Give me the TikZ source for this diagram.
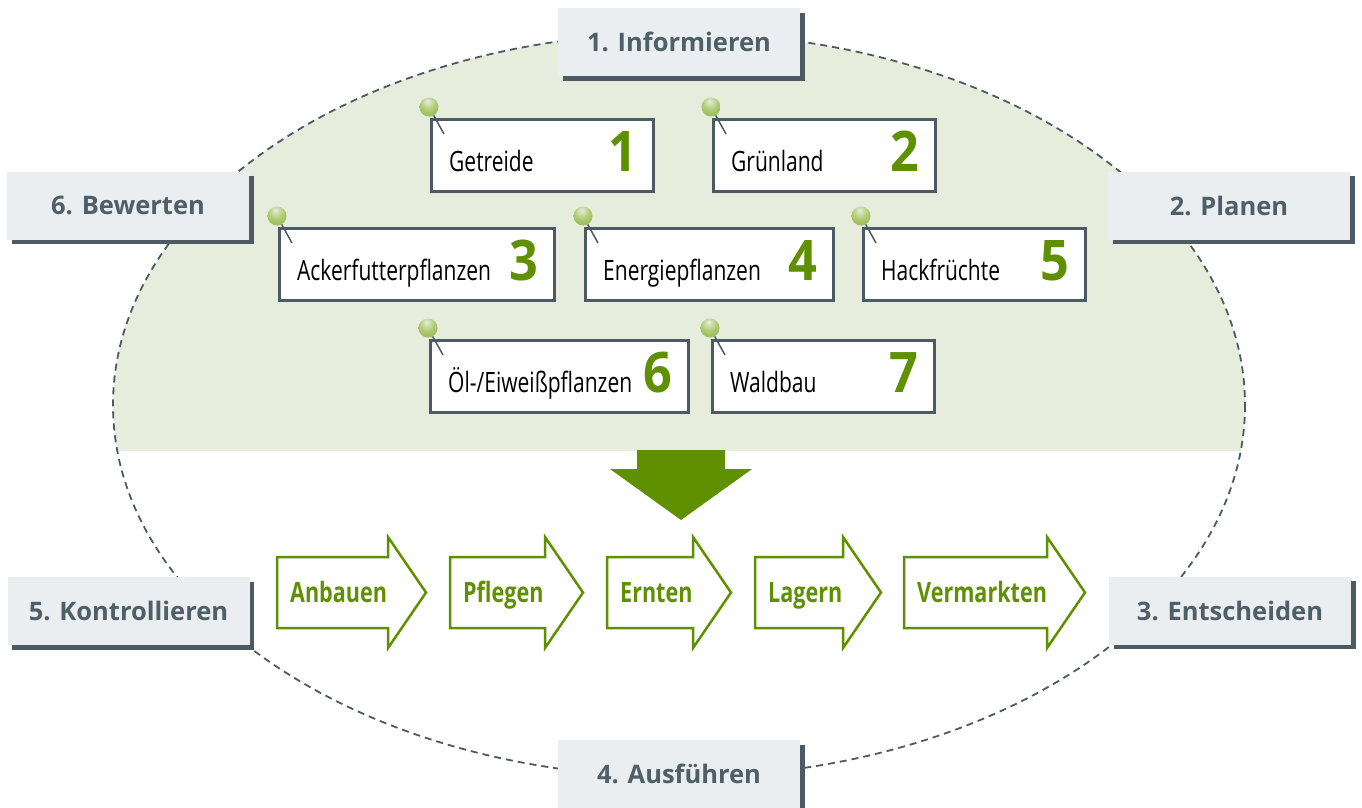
\documentclass[tikz,border=0pt]{standalone}
\usepackage{fontspec}
\setmainfont{Open Sans}
\newfontfamily\cropfont[FakeStretch=0.75]{Open Sans}
\newfontfamily\stepfont[FakeStretch=0.77]{Open Sans}
\newfontfamily\numfont[FakeStretch=0.9]{Open Sans}
\usepackage{tikz}
\usetikzlibrary{shapes, arrows, positioning, shadows}
\definecolor{leafgreen}{HTML}{5E9000}
\definecolor{fieldgreen}{HTML}{E6EDDC}
\definecolor{slate}{HTML}{4B5A63}
\definecolor{stagefill}{HTML}{EBEEF1}
\definecolor{stagetext}{HTML}{4E5F68}
\definecolor{pinlight}{HTML}{E6ECDD}
\definecolor{pinmid}{HTML}{AECB72}
\definecolor{pingreen}{HTML}{7AA22C}
\pgfdeclareradialshading{pinshade}{\pgfpoint{-4bp}{16bp}}{color(0bp)=(pinlight); color(20bp)=(pinmid); color(55bp)=(pingreen); color(75bp)=(pingreen)}
\tikzstyle{phase} = [fill=stagefill, text=stagetext, font=\fontsize{25.5}{30}\selectfont\bfseries, minimum width=242pt, minimum height=68pt, inner sep=0pt, drop shadow={shadow xshift=4.5pt, shadow yshift=-4.5pt, fill=slate, opacity=1}]
\tikzstyle{cropbox} = [draw=slate, line width=2.5pt, fill=white, minimum height=72pt, anchor=north west, inner sep=0pt]
\tikzstyle{croplabel} = [font=\cropfont\fontsize{28}{32}\selectfont, anchor=base west, inner sep=0pt]
\tikzstyle{cropnum} = [font=\numfont\fontsize{56}{60}\selectfont\bfseries, text=leafgreen, anchor=base east, inner sep=0pt]
\tikzstyle{pinhead} = [circle, minimum size=19pt, inner sep=0pt, shade, shading=pinshade]
\tikzstyle{needle} = [draw=slate, line width=1.5pt]
\tikzstyle{steparrow} = [draw=leafgreen, line width=2.5pt, fill=white, line join=miter]
\tikzstyle{steplabel} = [font=\stepfont\fontsize{28}{32}\selectfont\bfseries, text=leafgreen, anchor=base west, inner sep=0pt]
\begin{document}
\begin{tikzpicture}[x=1pt, y=-1pt]
	\useasboundingbox (0,0) rectangle (1362,807);
	% field and cycle
	\begin{scope}
		\clip (0,0) rectangle (1362,450);
		\fill[fieldgreen] (679,405) ellipse [x radius=566, y radius=372];
	\end{scope}
	\draw[slate, line width=1.8pt, dash pattern=on 7pt off 5pt] (679,405) ellipse [x radius=566, y radius=372];
	% down arrow
	\fill[leafgreen] (637,450) -- (725,450) -- (725,469) -- (752,469) -- (681,520) -- (610,469) -- (637,469) -- cycle;
	% crops
	\foreach \x/\y/\w/\crop [count=\n] in {430/118/222/Getreide, 712/118/222/Grünland, 278/227/275/Ackerfutterpflanzen, 584/227/248/Energiepflanzen, 862/227/222/Hackfrüchte, 429/339/258/{Öl-/Eiweißpflanzen}, 711/339/222/Waldbau}{
		\node[cropbox, minimum width=\w pt] (crop\n) at (\x,\y) {};
		\node[croplabel] (label\n) at ([xshift=19pt, yshift=21pt]crop\n.south west) {\crop};
		\node[cropnum] (num\n) at ([xshift=-17pt, yshift=21pt]crop\n.south east) {\n};
		\node[pinhead] (pin\n) at ([xshift=-1pt, yshift=11pt]crop\n.north west) {};
		\coordinate (tip\n) at ([xshift=14pt, yshift=-16pt]crop\n.north west);
		\draw[needle] (pin\n) -- (tip\n);
	}
	% steps
	\foreach \x/\h/\step [count=\i] in {277/388/Anbauen, 450/545/Pflegen, 607/693/Ernten, 755/843/Lagern, 904/1047/Vermarkten}{
		\draw[steparrow] (\x,557) -- (\h,557) -- (\h,537) -- (\h+38,592.5) -- (\h,648) -- (\h,628) -- (\x,628) -- cycle;
		\node[steplabel] (step\i) at (\x+13,602) {\step};
	}
	% phases
	\node[phase] (informieren) at (679,42) {1. Informieren};
	\node[phase] (planen) at (1229,205.5) {2. Planen};
	\node[phase] (entscheiden) at (1230,610.5) {3. Entscheiden};
	\node[phase] (ausfuehren) at (679,774) {4. Ausführen};
	\node[phase] (kontrollieren) at (128.5,611) {5. Kontrollieren};
	\node[phase] (bewerten) at (128,205.5) {6. Bewerten};
\end{tikzpicture}
\end{document}
